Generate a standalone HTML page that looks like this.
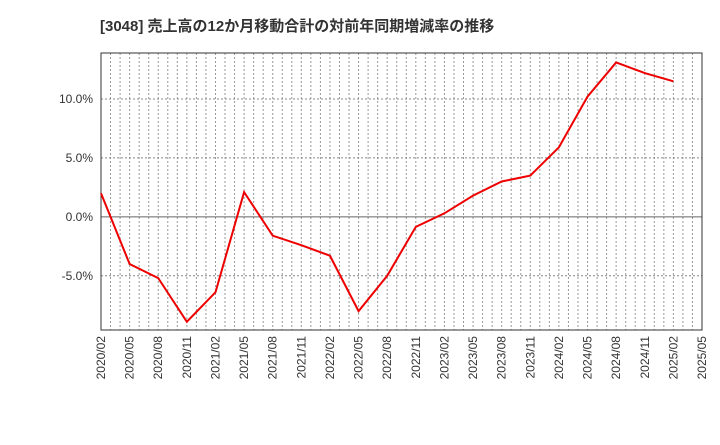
<!DOCTYPE html>
<html><head><meta charset="utf-8"><style>
body{margin:0;background:#fff;}
svg text{font-family:"Liberation Sans","Noto Sans CJK JP",sans-serif;}
</style></head><body>
<svg id="chart" width="720" height="440" xmlns="http://www.w3.org/2000/svg">
<text x="100" y="31" font-size="15" font-weight="bold" fill="#333">[3048]  売上高の12か月移動合計の対前年同期増減率の推移</text>
<g id="grid"></g><g id="axes"></g><g id="series"></g>
</svg>
<script>
const categories=["2020/02","2020/05","2020/08","2020/11","2021/02","2021/05","2021/08","2021/11","2022/02","2022/05","2022/08","2022/11","2023/02","2023/05","2023/08","2023/11","2024/02","2024/05","2024/08","2024/11","2025/02"];
const xTickLabels=["2020/02","2020/05","2020/08","2020/11","2021/02","2021/05","2021/08","2021/11","2022/02","2022/05","2022/08","2022/11","2023/02","2023/05","2023/08","2023/11","2024/02","2024/05","2024/08","2024/11","2025/02","2025/05"];
const values=[2.0,-4.0,-5.2,-8.9,-6.4,2.1,-1.6,-2.4,-3.3,-8.0,-5.0,-0.85,0.3,1.8,3.0,3.5,5.9,10.2,13.1,12.2,11.5];
const yTicks=[-5,0,5,10];
const L=101,R=702,T=53,B=330,yMin=-9.6,yMax=13.9;
const nQ=xTickLabels.length-1;
const xQ=i=>L+(R-L)*i/nQ;
const xM=m=>L+(R-L)*m/(nQ*3);
const y=v=>B-(v-yMin)/(yMax-yMin)*(B-T);
const NS="http://www.w3.org/2000/svg";
function mk(tag,attrs,parent){const e=document.createElementNS(NS,tag);for(const k in attrs)e.setAttribute(k,attrs[k]);document.getElementById(parent).appendChild(e);return e;}
for(let m=1;m<nQ*3;m++){const l=mk('line',{x1:xM(m),x2:xM(m),y1:T,y2:B,stroke:'#999','stroke-width':1,'stroke-dasharray':'2,2'},'grid');

}
yTicks.forEach(v=>{const l=mk('line',{x1:L,x2:R,y1:y(v),y2:y(v),stroke:v===0?'#666':'#888','stroke-width':1,'stroke-dasharray':v===0?'':'2,2'},'grid');


const t=mk('text',{x:L-8,y:y(v)+4,'text-anchor':'end','font-size':12,fill:'#333'},'axes');t.textContent=v.toFixed(1)+'%';

});
const fr=mk('rect',{x:L,y:T,width:R-L,height:B-T,fill:'none',stroke:'#333','stroke-width':1},'axes');


xTickLabels.forEach((s,i)=>{const t=mk('text',{x:0,y:0,'font-size':12,fill:'#333','text-anchor':'end',transform:`translate(${xQ(i)+4},${B+6}) rotate(-90)`},'axes');t.textContent=s;

});
const p=mk('polyline',{points:values.map((v,i)=>xQ(i)+','+y(v)).join(' '),fill:'none',stroke:'#e00','stroke-width':2},'series');


</script>
</body></html>
